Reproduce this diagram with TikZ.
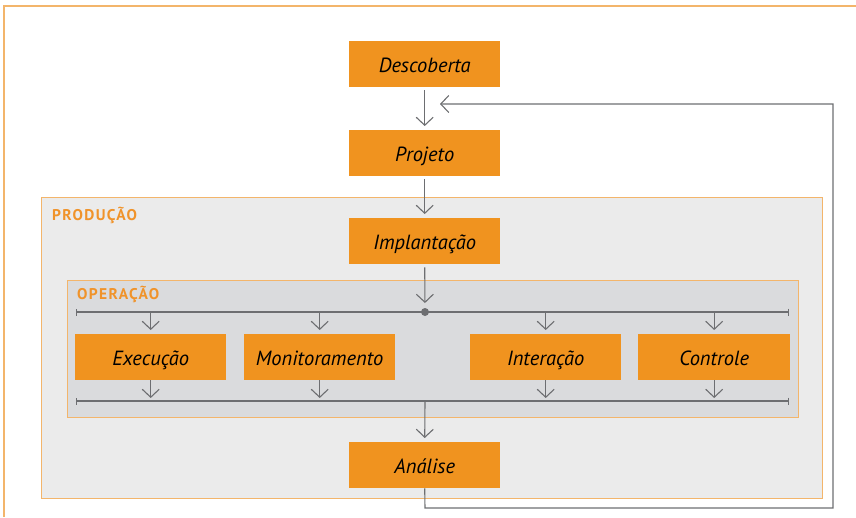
\documentclass[tikz,border=0pt]{standalone}
\usepackage{fontspec}
\setmainfont{PT Sans}
\newfontfamily\lblfont[LetterSpace=9]{PT Sans}
\usetikzlibrary{arrows.meta}
\definecolor{boxor}{HTML}{F0931F}
\definecolor{lblor}{HTML}{F0932A}
\definecolor{frameor}{HTML}{F3B56B}
\definecolor{prodbg}{HTML}{EBEBEB}
\definecolor{opbg}{HTML}{DADBDD}
\definecolor{lineg}{HTML}{6D6E71}
\tikzset{
  stepbox/.style={fill=boxor, draw=none, minimum width=151pt, minimum height=46pt, inner sep=0pt,
    text height=16pt, text depth=0pt,
    font=\fontsize{20.5}{24}\selectfont\itshape, text=black, anchor=north west},
  grouplbl/.style={font=\lblfont\fontsize{15.5}{18}\selectfont\bfseries, text=lblor, anchor=west, inner sep=0pt},
  flow/.style={draw=lineg, line width=1.1pt, -{Straight Barb[length=8pt,width=17pt,line width=1.1pt]}},
  bus/.style={draw=lineg, line width=1.1pt, {Bar[width=7pt,line width=1.1pt]}-{Bar[width=7pt,line width=1.1pt]}},
}
\begin{document}
\begin{tikzpicture}[x=1pt,y=-1pt]
\useasboundingbox (0,0) rectangle (856,517);
% outer frame (top and left visible)
\draw[draw=frameor, line width=1.2pt] (4,517) -- (4,6) -- (856,6);
% production group
\draw[fill=prodbg, draw=frameor, line width=1pt] (41,197) rectangle (822,498);
\node[grouplbl] (prodlbl) at (52,215) {PRODUÇÃO};
% operation group
\draw[fill=opbg, draw=frameor, line width=1pt] (67,280) rectangle (798,417);
\node[grouplbl] (oplbl) at (77,294) {OPERAÇÃO};
% main steps
\node[stepbox] (desc) at (349,41) {Descoberta};
\node[stepbox] (proj) at (349,130) {Projeto};
\node[stepbox] (impl) at (349,218) {Implantação};
\node[stepbox] (anal) at (349,442) {Análise};
% operation steps
\node[stepbox] (exec) at (75,334) {Execução};
\node[stepbox] (moni) at (244,334) {Monitoramento};
\node[stepbox] (inte) at (470,334) {Interação};
\node[stepbox, minimum width=152pt] (ctrl) at (638,334) {Controle};
% bus coordinates
\coordinate (tbl) at (76,312);
\coordinate (tbr) at (789,312);
\coordinate (tbc) at (425,312);
\coordinate (bbl) at (76,401);
\coordinate (bbr) at (789,401);
\coordinate (bbc) at (425,401);
\coordinate (fb1) at (425,508);
\coordinate (fb2) at (833,508);
\coordinate (fb3) at (833,104);
\coordinate (fbend) at (440,104);
% buses
\draw[bus] (tbl) -- (tbr);
\draw[bus] (bbl) -- (bbr);
\fill[lineg] (tbc) circle (4pt);
% main flow
\draw[flow, shorten <=3pt, shorten >=4pt] (desc.south) -- (proj.north);
\draw[flow, shorten <=3pt, shorten >=4pt] (proj.south) -- (impl.north);
\draw[flow, shorten <=3pt, shorten >=9pt] (impl.south) -- (tbc);
\draw[flow, shorten >=4pt] (bbc) -- (anal.north);
% into operation boxes
\draw[flow, shorten >=4pt] (tbl -| exec.north) -- (exec.north);
\draw[flow, shorten >=4pt] (tbl -| moni.north) -- (moni.north);
\draw[flow, shorten >=4pt] (tbl -| inte.north) -- (inte.north);
\draw[flow, shorten >=4pt] (tbl -| ctrl.north) -- (ctrl.north);
% out of operation boxes
\draw[flow, shorten >=3pt] (exec.south) -- (bbl -| exec.south);
\draw[flow, shorten >=3pt] (moni.south) -- (bbl -| moni.south);
\draw[flow, shorten >=3pt] (inte.south) -- (bbl -| inte.south);
\draw[flow, shorten >=3pt] (ctrl.south) -- (bbl -| ctrl.south);
% feedback loop
\draw[flow] (anal.south) -- (fb1) -- (fb2) -- (fb3) -- (fbend);
\end{tikzpicture}
\end{document}
